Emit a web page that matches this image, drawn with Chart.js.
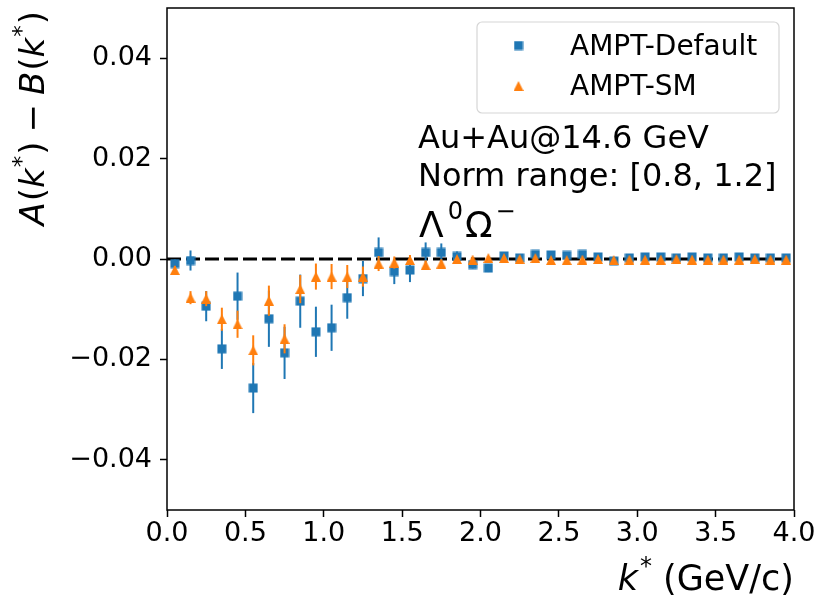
<!DOCTYPE html>
<html>
<head>
<meta charset="utf-8">
<script src="https://cdn.jsdelivr.net/npm/chart.js@4.4.1/dist/chart.umd.min.js"></script>
<style>
  body { margin: 0; background: #fff; }
  #wrap { width: 818px; height: 596px; position: relative; }
</style>
</head>
<body>
<div id="wrap"><canvas id="kstarChart"></canvas></div>
<script>
// k* bin centres (GeV/c)
const kstar = [0.05, 0.15, 0.25, 0.35, 0.45, 0.55, 0.65, 0.75, 0.85, 0.95,
               1.05, 1.15, 1.25, 1.35, 1.45, 1.55, 1.65, 1.75, 1.85, 1.95,
               2.05, 2.15, 2.25, 2.35, 2.45, 2.55, 2.65, 2.75, 2.85, 2.95,
               3.05, 3.15, 3.25, 3.35, 3.45, 3.55, 3.65, 3.75, 3.85, 3.95];

// A(k*) - B(k*), AMPT default
const ampDefault = [-0.0009, -0.0003, -0.0094, -0.0179, -0.0074, -0.0257, -0.0119, -0.0187, -0.0084, -0.0145,
                    -0.0137, -0.0077, -0.0039, 0.0013, -0.0025, -0.0022, 0.0013, 0.0013, 0.0005, -0.0011,
                    -0.0018, 0.0006, 0.0002, 0.0009, 0.0008, 0.0007, 0.0009, 0.0004, -0.0004, 0.0002,
                    0.0004, 0.0004, 0.0002, 0.0004, 0.0002, 0.0002, 0.0004, 0.0002, 0.0002, 0.0002];
const ampDefaultErr = [0.0008, 0.002, 0.003, 0.004, 0.0047, 0.005, 0.0056, 0.0052, 0.0053, 0.005,
                       0.0046, 0.0042, 0.0035, 0.003, 0.0025, 0.0024, 0.002, 0.0018, 0.001, 0.0008,
                       0.0008, 0.0005, 0.0004, 0.0004, 0.0004, 0.0003, 0.0003, 0.0003, 0.0003, 0.0003,
                       0.0003, 0.0003, 0.0003, 0.0003, 0.0003, 0.0003, 0.0003, 0.0003, 0.0003, 0.0003];

// A(k*) - B(k*), AMPT string melting
const ampSM = [-0.0022, -0.0077, -0.0079, -0.012, -0.013, -0.0182, -0.0083, -0.0159, -0.006, -0.0035,
               -0.0035, -0.0035, -0.0035, -0.0009, -0.0007, -0.0002, -0.0012, -0.0009, 0.0, -0.0001,
               0.0002, 0.0002, 0.0, 0.0002, -0.0002, -0.0002, -0.0001, 0.0, -0.0002, -0.0001,
               -0.0001, -0.0001, 0.0, -0.0001, -0.0001, -0.0001, -0.0001, 0.0, -0.0001, -0.0001];
const ampSMErr = [0.0008, 0.0013, 0.0015, 0.0023, 0.0027, 0.003, 0.003, 0.0029, 0.0028, 0.0026,
                  0.0025, 0.0023, 0.002, 0.0015, 0.0012, 0.001, 0.0009, 0.0008, 0.0006, 0.0005,
                  0.0004, 0.0003, 0.0003, 0.0003, 0.0002, 0.0002, 0.0002, 0.0002, 0.0002, 0.0002,
                  0.0002, 0.0002, 0.0002, 0.0002, 0.0002, 0.0002, 0.0002, 0.0002, 0.0002, 0.0002];

const xTicks = [0, 0.5, 1.0, 1.5, 2.0, 2.5, 3.0, 3.5, 4.0];
const yTicks = [-0.04, -0.02, 0, 0.02, 0.04];

const BLUE = '#1f77b4';
const ORANGE = '#ff7f0e';
const FONT = "'DejaVu Sans'";

function markerImage(kind, color) {
  const c = document.createElement('canvas');
  c.width = 10; c.height = 10;
  const g = c.getContext('2d');
  g.fillStyle = color;
  if (kind === 'square') {
    g.fillRect(0.5, 0.5, 9, 9);
  } else {
    g.beginPath();
    g.moveTo(5, 0); g.lineTo(10, 10); g.lineTo(0, 10);
    g.closePath(); g.fill();
  }
  return c;
}
const squareImg = markerImage('square', BLUE);
const triangleImg = markerImage('triangle', ORANGE);
const errors = [ampDefaultErr, ampSMErr];

// draws a list of text runs left to right, returns end x
function drawRuns(ctx, runs, x, y, measureOnly) {
  let cx = x;
  runs.forEach(r => {
    ctx.font = r.font;
    cx += r.dx || 0;
    if (!measureOnly) ctx.fillText(r.text, cx, y - (r.rise || 0));
    cx += ctx.measureText(r.text).width;
  });
  return cx;
}

const errorBars = {
  id: 'errorBars',
  beforeDatasetDraw(chart, args) {
    const ds = chart.data.datasets[args.index];
    const err = errors[args.index];
    const { ctx, scales: { x, y } } = chart;
    ctx.save();
    ctx.strokeStyle = ds.barColor;
    ctx.lineWidth = 2;
    ds.data.forEach((p, i) => {
      const px = x.getPixelForValue(p.x);
      ctx.beginPath();
      ctx.moveTo(px, y.getPixelForValue(p.y - err[i]));
      ctx.lineTo(px, y.getPixelForValue(p.y + err[i]));
      ctx.stroke();
    });
    ctx.restore();
  }
};

const decorations = {
  id: 'decorations',
  beforeDatasetsDraw(chart) {
    const { ctx, scales: { x, y } } = chart;
    // dashed zero line
    ctx.save();
    ctx.strokeStyle = '#000';
    ctx.lineWidth = 3;
    ctx.setLineDash([14, 5]);
    ctx.beginPath();
    ctx.moveTo(x.getPixelForValue(0), y.getPixelForValue(0));
    ctx.lineTo(x.getPixelForValue(4), y.getPixelForValue(0));
    ctx.stroke();
    ctx.restore();
  },
  afterDraw(chart) {
    const { ctx, chartArea: a } = chart;
    ctx.save();
    // axes frame
    ctx.strokeStyle = '#000';
    ctx.lineWidth = 1.5;
    ctx.strokeRect(a.left, a.top, a.right - a.left, a.bottom - a.top);

    ctx.fillStyle = '#000';
    ctx.textAlign = 'left';
    ctx.textBaseline = 'alphabetic';

    // x title, right aligned
    const xRuns = [
      { text: 'k', font: `italic 35px ${FONT}` },
      { text: '*', font: `24px ${FONT}`, rise: 16, dx: 2 },
      { text: ' (GeV/c)', font: `35px ${FONT}` }
    ];
    const xw = drawRuns(ctx, xRuns, 0, 0, true);
    drawRuns(ctx, xRuns, a.right - xw, 590);

    // y title, rotated, top aligned
    const yRuns = [
      { text: 'A', font: `italic 34px ${FONT}` },
      { text: '(', font: `34px ${FONT}`, dx: 1 },
      { text: 'k', font: `italic 34px ${FONT}` },
      { text: '*', font: `23px ${FONT}`, rise: 15, dx: 1 },
      { text: ')', font: `34px ${FONT}`, dx: 1 },
      { text: '−', font: `34px ${FONT}`, dx: 9 },
      { text: 'B', font: `italic 34px ${FONT}`, dx: 9 },
      { text: '(', font: `34px ${FONT}`, dx: 1 },
      { text: 'k', font: `italic 34px ${FONT}` },
      { text: '*', font: `23px ${FONT}`, rise: 15, dx: 1 },
      { text: ')', font: `34px ${FONT}`, dx: 1 }
    ];
    const yw = drawRuns(ctx, yRuns, 0, 0, true);
    ctx.save();
    ctx.translate(44, a.top + 3 + yw);
    ctx.rotate(-Math.PI / 2);
    drawRuns(ctx, yRuns, 0, 0);
    ctx.restore();

    // legend
    const lx = 477, ly = 22, lw = 302, lh = 91;
    ctx.beginPath();
    ctx.roundRect(lx, ly, lw, lh, 5);
    ctx.fillStyle = 'rgba(255,255,255,0.8)';
    ctx.fill();
    ctx.strokeStyle = '#d6d6d6';
    ctx.lineWidth = 1.2;
    ctx.stroke();
    ctx.fillStyle = '#000';
    ctx.font = `28px ${FONT}`;
    chart.data.datasets.forEach((ds, i) => {
      const cy = [45.5, 86][i];
      ctx.drawImage(ds.pointStyle, 513.5, cy - 5);
      ctx.fillText(ds.label, 570, [54.5, 94.5][i]);
    });

    // annotations
    ctx.font = `32px ${FONT}`;
    ctx.fillText('Au+Au@14.6 GeV', 418, 148);
    ctx.fillText('Norm range: [0.8, 1.2]', 418, 186);
    drawRuns(ctx, [
      { text: 'Λ', font: `36px ${FONT}` },
      { text: '0', font: `24px ${FONT}`, rise: 18, dx: 4 },
      { text: 'Ω', font: `36px ${FONT}`, dx: 2 },
      { text: '−', font: `24px ${FONT}`, rise: 18, dx: 3 }
    ], 419, 237);
    ctx.restore();
  }
};

const tickFont = { family: 'DejaVu Sans', size: 27 };

new Chart(document.getElementById('kstarChart'), {
  type: 'scatter',
  data: {
    datasets: [
      {
        label: 'AMPT-Default',
        data: kstar.map((k, i) => ({ x: k, y: ampDefault[i] })),
        pointStyle: squareImg,
        pointRadius: 5,
        barColor: BLUE,
        order: 2
      },
      {
        label: 'AMPT-SM',
        data: kstar.map((k, i) => ({ x: k, y: ampSM[i] })),
        pointStyle: triangleImg,
        pointRadius: 5,
        barColor: ORANGE,
        order: 1
      }
    ]
  },
  options: {
    responsive: true,
    maintainAspectRatio: false,
    animation: false,
    events: [],
    layout: { padding: { top: 8, right: 24, left: 0, bottom: 0 } },
    plugins: { legend: { display: false }, tooltip: { enabled: false } },
    scales: {
      x: {
        type: 'linear',
        min: 0, max: 4,
        afterBuildTicks: s => { s.ticks = xTicks.map(v => ({ value: v })); },
        afterFit: s => { s.height = 86; s.paddingLeft = 0; s.paddingRight = 0; },
        ticks: {
          font: tickFont, color: '#000', padding: 1, maxRotation: 0,
          callback: v => v.toFixed(1)
        },
        grid: { drawOnChartArea: false, drawTicks: true, tickLength: 7, tickWidth: 1.5, tickColor: '#000' },
        border: { display: false }
      },
      y: {
        type: 'linear',
        min: -0.05, max: 0.05,
        afterBuildTicks: s => { s.ticks = yTicks.map(v => ({ value: v })); },
        afterFit: s => { s.width = 167; s.paddingTop = 0; s.paddingBottom = 0; },
        ticks: {
          font: tickFont, color: '#000', padding: 8,
          callback: v => (v < -1e-9 ? '−' : '') + Math.abs(v).toFixed(2)
        },
        grid: { drawOnChartArea: false, drawTicks: true, tickLength: 7, tickWidth: 1.5, tickColor: '#000' },
        border: { display: false }
      }
    }
  },
  plugins: [errorBars, decorations]
});
</script>
</body>
</html>
